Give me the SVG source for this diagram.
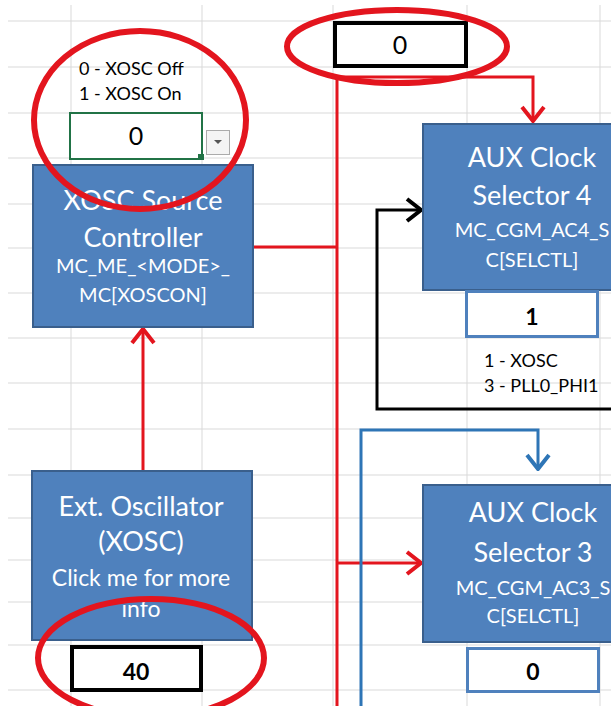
<svg xmlns="http://www.w3.org/2000/svg" width="611" height="706" viewBox="0 0 611 706">
<defs>
<style>
.grid line{stroke:#D9D9D9;stroke-width:1}
.box{fill:#4F81BD;stroke:#3A5F8C;stroke-width:2}
.bt{font-family:Lato,"Open Sans","Liberation Sans",sans-serif;fill:#FFFFFF;text-anchor:middle}
.big{font-size:27px}
.sm{font-size:20px}
.lbl{font-family:Lato,"Open Sans","Liberation Sans",sans-serif;font-size:18px;fill:#000}
.val{font-family:Lato,"Open Sans","Liberation Sans",sans-serif;font-size:25px;fill:#000;text-anchor:middle}
.bold{font-weight:bold}
.cell{fill:#FFFFFF;stroke-width:4}
.red{stroke:#E3151E;stroke-width:3;fill:none}
.blk{stroke:#000;stroke-width:3;fill:none}
.blu{stroke:#2E75B6;stroke-width:3;fill:none}
.ring{fill:none;stroke:#E3151E;stroke-width:6}
</style>
<marker id="ar" viewBox="0 0 18 26" refX="16" refY="13" markerWidth="18" markerHeight="26" markerUnits="userSpaceOnUse" orient="auto"><path d="M2,2 L16,13 L2,24" fill="none" stroke="#E3151E" stroke-width="4"/></marker>
<marker id="ak" viewBox="0 0 18 26" refX="16" refY="13" markerWidth="18" markerHeight="26" markerUnits="userSpaceOnUse" orient="auto"><path d="M2,2 L16,13 L2,24" fill="none" stroke="#000" stroke-width="4"/></marker>
<marker id="ab" viewBox="0 0 18 26" refX="16" refY="13" markerWidth="18" markerHeight="26" markerUnits="userSpaceOnUse" orient="auto"><path d="M2,2 L16,13 L2,24" fill="none" stroke="#2E75B6" stroke-width="4"/></marker>
</defs>
<rect width="611" height="706" fill="#FFFFFF"/>
<g class="grid">
<line x1="8" y1="21" x2="611" y2="21"/><line x1="8" y1="67" x2="611" y2="67"/><line x1="8" y1="113" x2="611" y2="113"/><line x1="8" y1="158" x2="611" y2="158"/><line x1="8" y1="204" x2="611" y2="204"/><line x1="8" y1="248" x2="611" y2="248"/><line x1="8" y1="293" x2="611" y2="293"/><line x1="8" y1="338" x2="611" y2="338"/><line x1="8" y1="383" x2="611" y2="383"/><line x1="8" y1="429" x2="611" y2="429"/><line x1="8" y1="475" x2="611" y2="475"/><line x1="8" y1="518" x2="611" y2="518"/><line x1="8" y1="560" x2="611" y2="560"/><line x1="8" y1="602" x2="611" y2="602"/><line x1="8" y1="645" x2="611" y2="645"/><line x1="8" y1="690" x2="611" y2="690"/>
<line x1="71" y1="5" x2="71" y2="706"/><line x1="202" y1="5" x2="202" y2="706"/><line x1="333" y1="5" x2="333" y2="706"/><line x1="467" y1="5" x2="467" y2="706"/><line x1="600" y1="5" x2="600" y2="706"/>
</g>
<g id="connectors">
<path class="red" d="M253,247 H337"/>
<path class="red" d="M337,706 V77 H533 V121" marker-end="url(#ar)"/>
<path class="red" d="M337,563 H421" marker-end="url(#ar)"/>
<path class="red" d="M143,470 V329" marker-end="url(#ar)"/>
<path class="blk" d="M611,409 H377 V210 H421" marker-end="url(#ak)"/>
<path class="blu" d="M361,706 V430 H538 V469" marker-end="url(#ab)"/>
</g>
<g id="xosc-mode-select">
<text class="lbl" x="79" y="75">0 - XOSC Off</text>
<text class="lbl" x="79" y="100">1 - XOSC On</text>
<rect x="70" y="113" width="132" height="46" fill="#FFFFFF" stroke="#217346" stroke-width="2"/>
<rect x="198" y="154" width="6" height="6" fill="#217346"/>
<rect x="206.5" y="130.5" width="23" height="24" fill="#F4F4F4" stroke="#ABABAB" stroke-width="1"/>
<path d="M214,140 h8 l-4,4 z" fill="#555"/>
<text class="val" x="136" y="145">0</text>
</g>
<g id="xosc-source-controller">
<rect class="box" x="33" y="165" width="220" height="162"/>
<text class="bt big" x="143" y="210">XOSC Source</text>
<text class="bt big" x="143" y="247">Controller</text>
<text class="bt sm" x="143" y="273">MC_ME_&lt;MODE&gt;_</text>
<text class="bt sm" x="143" y="302">MC[XOSCON]</text>
</g>
<g id="ext-oscillator">
<rect class="box" x="32" y="471" width="220" height="169"/>
<text class="bt big" x="141" y="516">Ext. Oscillator</text>
<text class="bt big" x="141" y="551">(XOSC)</text>
<text class="bt" style="font-size:23px" x="141" y="586">Click me for more</text>
<text class="bt" style="font-size:23px" x="141" y="617">info</text>
</g>
<g id="xosc-freq">
<rect class="cell" x="72" y="647" width="129" height="43" stroke="#000"/>
<text class="val bold" x="136" y="680" style="font-size:23px">40</text>
</g>
<g id="top-value">
<rect class="cell" x="335" y="23" width="131" height="43" stroke="#000"/>
<text class="val" x="400" y="54">0</text>
</g>
<g id="aux-clock-selector-4">
<rect class="box" x="423" y="124" width="220" height="166"/>
<text class="bt big" x="532" y="167">AUX Clock</text>
<text class="bt big" x="532" y="205">Selector 4</text>
<text class="bt sm" x="532" y="237">MC_CGM_AC4_S</text>
<text class="bt sm" x="532" y="267">C[SELCTL]</text>
</g>
<g id="aux4-value">
<rect x="466.5" y="291.5" width="131" height="45" fill="#FFFFFF" stroke="#4F81BD" stroke-width="3"/>
<text class="val bold" x="532" y="325" style="font-size:23px">1</text>
<text class="lbl" x="484" y="367">1 - XOSC</text>
<text class="lbl" x="484" y="392">3 - PLL0_PHI1</text>
</g>
<g id="aux-clock-selector-3">
<rect class="box" x="423" y="485" width="220" height="157"/>
<text class="bt big" x="533" y="522">AUX Clock</text>
<text class="bt big" x="533" y="562">Selector 3</text>
<text class="bt sm" x="533" y="595">MC_CGM_AC3_S</text>
<text class="bt sm" x="533" y="623">C[SELCTL]</text>
</g>
<g id="aux3-value">
<rect x="467.5" y="648.5" width="131" height="43" fill="#FFFFFF" stroke="#4F81BD" stroke-width="3"/>
<text class="val bold" x="533" y="680" style="font-size:23px">0</text>
</g>
<g id="highlights">
<ellipse class="ring" cx="140" cy="120" rx="106" ry="89"/>
<ellipse class="ring" cx="151" cy="658" rx="113" ry="59"/>
<ellipse class="ring" cx="397" cy="46.5" rx="110" ry="36.5"/>
</g>
</svg>
